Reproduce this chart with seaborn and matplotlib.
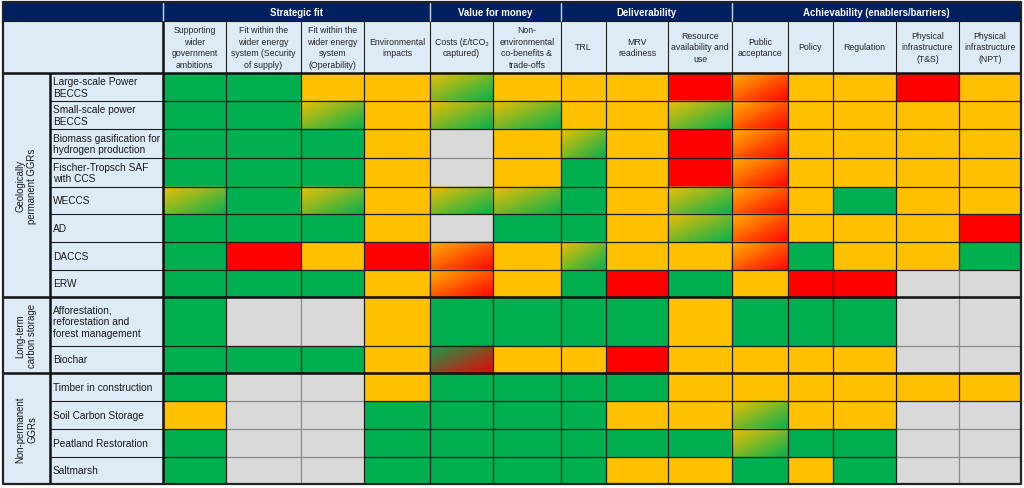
import numpy as np
import matplotlib
matplotlib.use("Agg")
import matplotlib.pyplot as plt
import seaborn as sns
from matplotlib.colors import ListedColormap, LinearSegmentedColormap
from matplotlib.collections import LineCollection

# --- DATI ---
header_groups = ["Strategic fit", "Value for money", "Deliverability",
                 "Achievability (enablers/barriers)"]
header_spans = [4, 2, 3, 5]

criteria = [
    "Supporting\nwider\ngovernment\nambitions",
    "Fit within the\nwider energy\nsystem (Security\nof supply)",
    "Fit within the\nwider energy\nsystem\n(Operability)",
    "Environmental\nimpacts",
    "Costs (£/tCO₂\ncaptured)",
    "Non-\nenvironmental\nco-benefits &\ntrade-offs",
    "TRL",
    "MRV\nreadiness",
    "Resource\navailability and\nuse",
    "Public\nacceptance",
    "Policy",
    "Regulation",
    "Physical\ninfrastructure\n(T&S)",
    "Physical\ninfrastructure\n(NPT)",
]

group_labels = ["Geologically\npermanent GGRs", "Long-term\ncarbon storage",
                "Non-permanent\nGGRs"]
group_sizes = [8, 2, 4]

options = [
    "Large-scale Power\nBECCS",
    "Small-scale power\nBECCS",
    "Biomass gasification for\nhydrogen production",
    "Fischer-Tropsch SAF\nwith CCS",
    "WECCS",
    "AD",
    "DACCS",
    "ERW",
    "Afforestation,\nreforestation and\nforest management",
    "Biochar",
    "Timber in construction",
    "Soil Carbon Storage",
    "Peatland Restoration",
    "Saltmarsh",
]

# G = verde, A = ambra, R = rosso, X = n/a (grigio), AG/AR/GR = sfumature
ratings = [
    ["G", "G", "A", "A", "AG", "A", "A", "A", "R", "AR", "A", "A", "R", "A"],
    ["G", "G", "AG", "A", "AG", "AG", "A", "A", "AG", "AR", "A", "A", "A", "A"],
    ["G", "G", "G", "A", "X", "A", "AG", "A", "R", "AR", "A", "A", "A", "A"],
    ["G", "G", "G", "A", "X", "A", "G", "A", "R", "AR", "A", "A", "A", "A"],
    ["AG", "G", "AG", "A", "AG", "AG", "G", "A", "AG", "AR", "A", "G", "A", "A"],
    ["G", "G", "G", "A", "X", "G", "G", "A", "AG", "AR", "A", "A", "A", "R"],
    ["G", "R", "A", "R", "AR", "A", "AG", "A", "A", "AR", "G", "A", "A", "G"],
    ["G", "G", "G", "A", "AR", "A", "G", "R", "G", "A", "R", "R", "X", "X"],
    ["G", "X", "X", "A", "G", "G", "G", "G", "A", "G", "G", "G", "X", "X"],
    ["G", "G", "G", "A", "GR", "A", "A", "R", "A", "A", "A", "A", "X", "X"],
    ["G", "X", "X", "A", "G", "G", "G", "G", "A", "A", "A", "A", "A", "A"],
    ["A", "X", "X", "G", "G", "G", "G", "A", "A", "AG", "A", "A", "X", "X"],
    ["G", "X", "X", "G", "G", "G", "G", "G", "G", "AG", "G", "G", "X", "X"],
    ["G", "X", "X", "G", "G", "G", "G", "A", "A", "G", "A", "G", "X", "X"],
]

# --- LAYOUT (pixel) ---
col_px = [3, 50, 163, 226, 301, 364, 430, 493, 561, 606, 668, 732, 788, 833, 896, 959, 1021]
row_px = [3, 22, 74, 102, 130, 159, 188, 215, 243, 271, 298, 347, 374, 402, 430, 458, 485]

codes = {"N": 0, "L": 1, "G": 2, "A": 3, "R": 4, "X": 5, "AG": 6, "AR": 7, "GR": 8}
palette = ["#002060", "#DDEBF7", "#00B050", "#FFC000", "#FF0000", "#D9D9D9",
           "#80B828", "#FF6000", "#805828"]
grad_cmaps = {
    "AG": LinearSegmentedColormap.from_list("ag", ["#F2C000", "#00B050"]),
    "AR": LinearSegmentedColormap.from_list("ar", ["#FFB400", "#FF0000"]),
    "GR": LinearSegmentedColormap.from_list("gr", ["#10A050", "#F00000"]),
}

n = len(col_px) - 1
mat = np.full((n, n), codes["L"])
mat[0, :] = codes["N"]
for r, row in enumerate(ratings):
    for c, code in enumerate(row):
        mat[r + 2, c + 2] = codes[code]


def make_scale(px):
    idx = np.arange(len(px), dtype=float)
    step = (px[-1] - px[0]) / (len(px) - 1)
    ii = np.concatenate([[-1000.0], idx, [len(px) - 1 + 1000.0]])
    pp = np.concatenate([[px[0] - 1000 * step], px, [px[-1] + 1000 * step]])
    return (lambda v: np.interp(v, ii, pp)), (lambda v: np.interp(v, pp, ii))


fx, fxi = make_scale(np.array(col_px, float))
fy, fyi = make_scale(np.array(row_px, float))


def mid(f, fi, a, b):
    return float(fi((f(a) + f(b)) / 2))


sns.set_theme(style="white")
plt.rcParams["font.family"] = ["Liberation Sans", "DejaVu Sans"]

fig = plt.figure(figsize=(10.24, 4.89), dpi=100)
fig.patch.set_facecolor("white")
ax = fig.add_axes([col_px[0] / 1024, (489 - row_px[-1]) / 489,
                   (col_px[-1] - col_px[0]) / 1024, (row_px[-1] - row_px[0]) / 489])

sns.heatmap(mat, cmap=ListedColormap(palette), vmin=-0.5, vmax=len(palette) - 0.5,
            cbar=False, xticklabels=False, yticklabels=False, linewidths=0, ax=ax)
ax.set_xscale("function", functions=(fx, fxi))
ax.set_yscale("function", functions=(fy, fyi))
ax.set_xlim(0, n)
ax.set_ylim(n, 0)
ax.set_axis_off()

# sfumature diagonali
for r, row in enumerate(ratings):
    for c, code in enumerate(row):
        if code in grad_cmaps:
            X = np.array([[c + 2, c + 3], [c + 2, c + 3]], float)
            Y = np.array([[r + 2, r + 2], [r + 3, r + 3]], float)
            C = np.array([[0, 0.5], [0.5, 1.0]])
            ax.pcolormesh(X, Y, C, shading="gouraud", cmap=grad_cmaps[code],
                          vmin=0, vmax=1, zorder=2)

# --- BORDI ---
dark, grey = "#1c1c1c", "#8a8a8a"


def is_grey(r, c):
    if r < 2 or r >= n or c < 2 or c >= n:
        return None
    return mat[r, c] == codes["X"]


segs, cols = [], []
for k in range(3, n):
    for c in range(2, n):
        g = is_grey(k - 1, c) and is_grey(k, c)
        segs.append([(c, k), (c + 1, k)])
        cols.append(grey if g else dark)
for k in range(3, n):
    for r in range(2, n):
        g = is_grey(r, k - 1) and is_grey(r, k)
        segs.append([(k, r), (k, r + 1)])
        cols.append(grey if g else dark)
for r in range(2, n):
    if is_grey(r, n - 1):
        segs.append([(n, r), (n, r + 1)])
        cols.append(grey)
ax.add_collection(LineCollection(segs, colors=cols, linewidths=0.9, zorder=3))

thin = []
for k in range(3, n):
    thin.append([(1, k), (2, k)])
for k in range(3, n):
    thin.append([(k, 1), (k, 2)])
thin.append([(0, 1), (n, 1)])
ax.add_collection(LineCollection(thin, colors=dark, linewidths=0.8, zorder=3))

thick = [[(0, 2), (n, 2)], [(2, 1), (2, n)], [(1, 2), (1, n)]]
b = 2
for s in group_sizes[:-1]:
    b += s
    thick.append([(0, b), (n, b)])
ax.add_collection(LineCollection(thick, colors="#111111", linewidths=1.8, zorder=4))

light = []
x = 2
light.append([(x, 0), (x, 1)])
for s in header_spans[:-1]:
    x += s
    light.append([(x, 0), (x, 1)])
ax.add_collection(LineCollection(light, colors="#c9d6ea", linewidths=1.0, zorder=3))

outer = [(0, 0), (n, 0), (n, n), (0, n), (0, 0)]
ax.plot([p[0] for p in outer], [p[1] for p in outer], color="#222222", lw=1.6,
        zorder=5, clip_on=False)

# --- TESTI ---
x = 2
for name, s in zip(header_groups, header_spans):
    ax.text(mid(fx, fxi, x, x + s), 0.5, name, ha="center", va="center",
            color="white", fontsize=6.9, fontweight="bold", zorder=6)
    x += s

for c, name in enumerate(criteria):
    ax.text(c + 2.5, 1.5, name, ha="center", va="center", color="#262626",
            fontsize=6.3, linespacing=1.35, zorder=6)

x_lab = float(fxi(53))
for r, name in enumerate(options):
    ax.text(x_lab, r + 2.5, name, ha="left", va="center", color="#1a1a1a",
            fontsize=7.3, zorder=6)

y = 2
for name, s in zip(group_labels, group_sizes):
    ax.text(0.5, mid(fy, fyi, y, y + s), name, ha="center", va="center",
            rotation=90, color="#1a1a1a", fontsize=6.9, zorder=6)
    y += s

fig.savefig("out.png", dpi=100, facecolor="white")
